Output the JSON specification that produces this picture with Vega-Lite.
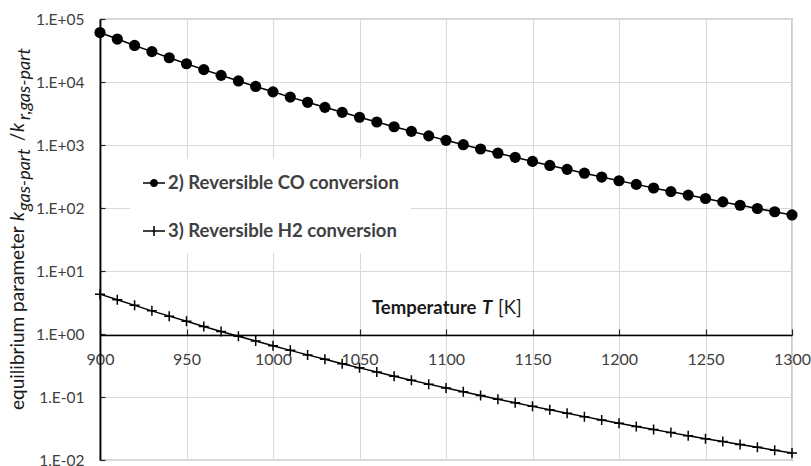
{
  "$schema": "https://vega.github.io/schema/vega-lite/v6.json",
  "width": 692,
  "height": 441,
  "autosize": "none",
  "padding": {"left": 100, "top": 19, "right": 19, "bottom": 6},
  "background": "white",
  "config": {
    "font": "Lato",
    "view": {"stroke": "#595959", "strokeWidth": 1.2},
    "axis": {
      "gridColor": "#d9d9d9",
      "gridWidth": 1,
      "labelFont": "Lato",
      "labelFontSize": 16,
      "labelColor": "#404040",
      "tickColor": "#262626",
      "domainColor": "#000000"
    }
  },
  "datasets": {
    "curves": [
      {"series": "2) Reversible CO conversion", "T": 900, "K": 60950},
      {"series": "2) Reversible CO conversion", "T": 910, "K": 48030},
      {"series": "2) Reversible CO conversion", "T": 920, "K": 38050},
      {"series": "2) Reversible CO conversion", "T": 930, "K": 30300},
      {"series": "2) Reversible CO conversion", "T": 940, "K": 24240},
      {"series": "2) Reversible CO conversion", "T": 950, "K": 19490},
      {"series": "2) Reversible CO conversion", "T": 960, "K": 15730},
      {"series": "2) Reversible CO conversion", "T": 970, "K": 12760},
      {"series": "2) Reversible CO conversion", "T": 980, "K": 10390},
      {"series": "2) Reversible CO conversion", "T": 990, "K": 8500},
      {"series": "2) Reversible CO conversion", "T": 1000, "K": 6980},
      {"series": "2) Reversible CO conversion", "T": 1010, "K": 5760},
      {"series": "2) Reversible CO conversion", "T": 1020, "K": 4760},
      {"series": "2) Reversible CO conversion", "T": 1030, "K": 3960},
      {"series": "2) Reversible CO conversion", "T": 1040, "K": 3300},
      {"series": "2) Reversible CO conversion", "T": 1050, "K": 2760},
      {"series": "2) Reversible CO conversion", "T": 1060, "K": 2320},
      {"series": "2) Reversible CO conversion", "T": 1070, "K": 1950},
      {"series": "2) Reversible CO conversion", "T": 1080, "K": 1647},
      {"series": "2) Reversible CO conversion", "T": 1090, "K": 1396},
      {"series": "2) Reversible CO conversion", "T": 1100, "K": 1186},
      {"series": "2) Reversible CO conversion", "T": 1110, "K": 1011},
      {"series": "2) Reversible CO conversion", "T": 1120, "K": 864},
      {"series": "2) Reversible CO conversion", "T": 1130, "K": 741},
      {"series": "2) Reversible CO conversion", "T": 1140, "K": 637},
      {"series": "2) Reversible CO conversion", "T": 1150, "K": 549},
      {"series": "2) Reversible CO conversion", "T": 1160, "K": 474},
      {"series": "2) Reversible CO conversion", "T": 1170, "K": 411},
      {"series": "2) Reversible CO conversion", "T": 1180, "K": 357},
      {"series": "2) Reversible CO conversion", "T": 1190, "K": 310},
      {"series": "2) Reversible CO conversion", "T": 1200, "K": 271},
      {"series": "2) Reversible CO conversion", "T": 1210, "K": 237},
      {"series": "2) Reversible CO conversion", "T": 1220, "K": 207.5},
      {"series": "2) Reversible CO conversion", "T": 1230, "K": 182.2},
      {"series": "2) Reversible CO conversion", "T": 1240, "K": 160.3},
      {"series": "2) Reversible CO conversion", "T": 1250, "K": 141.4},
      {"series": "2) Reversible CO conversion", "T": 1260, "K": 124.9},
      {"series": "2) Reversible CO conversion", "T": 1270, "K": 110.6},
      {"series": "2) Reversible CO conversion", "T": 1280, "K": 98.1},
      {"series": "2) Reversible CO conversion", "T": 1290, "K": 87.2},
      {"series": "2) Reversible CO conversion", "T": 1300, "K": 77.6},
      {"series": "3) Reversible H2 conversion", "T": 900, "K": 4.29},
      {"series": "3) Reversible H2 conversion", "T": 910, "K": 3.49},
      {"series": "3) Reversible H2 conversion", "T": 920, "K": 2.85},
      {"series": "3) Reversible H2 conversion", "T": 930, "K": 2.33},
      {"series": "3) Reversible H2 conversion", "T": 940, "K": 1.92},
      {"series": "3) Reversible H2 conversion", "T": 950, "K": 1.589},
      {"series": "3) Reversible H2 conversion", "T": 960, "K": 1.319},
      {"series": "3) Reversible H2 conversion", "T": 970, "K": 1.099},
      {"series": "3) Reversible H2 conversion", "T": 980, "K": 0.919},
      {"series": "3) Reversible H2 conversion", "T": 990, "K": 0.772},
      {"series": "3) Reversible H2 conversion", "T": 1000, "K": 0.65},
      {"series": "3) Reversible H2 conversion", "T": 1010, "K": 0.55},
      {"series": "3) Reversible H2 conversion", "T": 1020, "K": 0.466},
      {"series": "3) Reversible H2 conversion", "T": 1030, "K": 0.397},
      {"series": "3) Reversible H2 conversion", "T": 1040, "K": 0.338},
      {"series": "3) Reversible H2 conversion", "T": 1050, "K": 0.29},
      {"series": "3) Reversible H2 conversion", "T": 1060, "K": 0.2486},
      {"series": "3) Reversible H2 conversion", "T": 1070, "K": 0.2141},
      {"series": "3) Reversible H2 conversion", "T": 1080, "K": 0.1848},
      {"series": "3) Reversible H2 conversion", "T": 1090, "K": 0.16},
      {"series": "3) Reversible H2 conversion", "T": 1100, "K": 0.1389},
      {"series": "3) Reversible H2 conversion", "T": 1110, "K": 0.1208},
      {"series": "3) Reversible H2 conversion", "T": 1120, "K": 0.1054},
      {"series": "3) Reversible H2 conversion", "T": 1130, "K": 0.0922},
      {"series": "3) Reversible H2 conversion", "T": 1140, "K": 0.0808},
      {"series": "3) Reversible H2 conversion", "T": 1150, "K": 0.071},
      {"series": "3) Reversible H2 conversion", "T": 1160, "K": 0.0625},
      {"series": "3) Reversible H2 conversion", "T": 1170, "K": 0.0552},
      {"series": "3) Reversible H2 conversion", "T": 1180, "K": 0.0488},
      {"series": "3) Reversible H2 conversion", "T": 1190, "K": 0.0432},
      {"series": "3) Reversible H2 conversion", "T": 1200, "K": 0.0384},
      {"series": "3) Reversible H2 conversion", "T": 1210, "K": 0.0341},
      {"series": "3) Reversible H2 conversion", "T": 1220, "K": 0.0304},
      {"series": "3) Reversible H2 conversion", "T": 1230, "K": 0.0272},
      {"series": "3) Reversible H2 conversion", "T": 1240, "K": 0.0243},
      {"series": "3) Reversible H2 conversion", "T": 1250, "K": 0.0218},
      {"series": "3) Reversible H2 conversion", "T": 1260, "K": 0.0196},
      {"series": "3) Reversible H2 conversion", "T": 1270, "K": 0.0176},
      {"series": "3) Reversible H2 conversion", "T": 1280, "K": 0.0159},
      {"series": "3) Reversible H2 conversion", "T": 1290, "K": 0.0143},
      {"series": "3) Reversible H2 conversion", "T": 1300, "K": 0.0129}
    ]
  },
  "layer": [
    {
      "data": {"name": "curves"},
      "mark": {"type": "line", "color": "black", "strokeWidth": 1.5},
      "encoding": {
        "x": {"field": "T", "type": "quantitative", "scale": {"domain": [900, 1300], "nice": false, "zero": false},
          "axis": {"title": null, "values": [900, 950, 1000, 1050, 1100, 1150, 1200, 1250, 1300], "format": "d", "offset": -125, "tickSize": -6, "tickWidth": 1.2, "labelPadding": 22, "labelFlush": false, "labelOverlap": false, "domainWidth": 1.3, "grid": true}},
        "y": {"field": "K", "type": "quantitative", "scale": {"type": "log", "domain": [0.01, 100000], "nice": false},
          "axis": {"title": null, "values": [0.01, 0.1, 1, 10, 100, 1000, 10000, 100000], "labelExpr": "'1.E' + (datum.value >= 1 ? '+' : '-') + (abs(round(log(datum.value) / LN10)) < 10 ? '0' : '') + abs(round(log(datum.value) / LN10))", "labelFontSize": 15.5, "tickSize": -5, "tickWidth": 1.2, "labelPadding": 21, "domainWidth": 1.8, "grid": true}},
        "detail": {"field": "series", "type": "nominal"}
      }
    },
    {
      "data": {"name": "curves"},
      "transform": [{"filter": "datum.series == '2) Reversible CO conversion'"}],
      "mark": {"type": "point", "shape": "circle", "filled": true, "color": "black", "size": 125, "opacity": 1},
      "encoding": {
        "x": {"field": "T", "type": "quantitative",
          "axis": {"title": null, "values": [900, 950, 1000, 1050, 1100, 1150, 1200, 1250, 1300], "format": "d", "offset": -125, "tickSize": -6, "tickWidth": 1.2, "labelPadding": 22, "labelFlush": false, "labelOverlap": false, "domainWidth": 1.3, "grid": true}},
        "y": {"field": "K", "type": "quantitative",
          "axis": {"title": null, "values": [0.01, 0.1, 1, 10, 100, 1000, 10000, 100000], "labelExpr": "'1.E' + (datum.value >= 1 ? '+' : '-') + (abs(round(log(datum.value) / LN10)) < 10 ? '0' : '') + abs(round(log(datum.value) / LN10))", "labelFontSize": 15.5, "tickSize": -5, "tickWidth": 1.2, "labelPadding": 21, "domainWidth": 1.8, "grid": true}}
      }
    },
    {
      "data": {"name": "curves"},
      "transform": [{"filter": "datum.series == '3) Reversible H2 conversion'"}],
      "mark": {"type": "point", "shape": "M-1,0H1M0,-1V1", "filled": false, "color": "black", "size": 100, "strokeWidth": 1.5, "opacity": 1},
      "encoding": {
        "x": {"field": "T", "type": "quantitative",
          "axis": {"title": null, "values": [900, 950, 1000, 1050, 1100, 1150, 1200, 1250, 1300], "format": "d", "offset": -125, "tickSize": -6, "tickWidth": 1.2, "labelPadding": 22, "labelFlush": false, "labelOverlap": false, "domainWidth": 1.3, "grid": true}},
        "y": {"field": "K", "type": "quantitative",
          "axis": {"title": null, "values": [0.01, 0.1, 1, 10, 100, 1000, 10000, 100000], "labelExpr": "'1.E' + (datum.value >= 1 ? '+' : '-') + (abs(round(log(datum.value) / LN10)) < 10 ? '0' : '') + abs(round(log(datum.value) / LN10))", "labelFontSize": 15.5, "tickSize": -5, "tickWidth": 1.2, "labelPadding": 21, "domainWidth": 1.8, "grid": true}}
      }
    },
    {
      "data": {"name": "curves"},
      "transform": [{"filter": "datum.T < 0"}],
      "mark": {"type": "point", "filled": true, "color": "black", "opacity": 1},
      "encoding": {
        "x": {"field": "T", "type": "quantitative",
          "axis": {"title": null, "values": [900, 950, 1000, 1050, 1100, 1150, 1200, 1250, 1300], "format": "d", "offset": -125, "tickSize": -6, "tickWidth": 1.2, "labelPadding": 22, "labelFlush": false, "labelOverlap": false, "domainWidth": 1.3, "grid": true}},
        "y": {"field": "K", "type": "quantitative",
          "axis": {"title": null, "values": [0.01, 0.1, 1, 10, 100, 1000, 10000, 100000], "labelExpr": "'1.E' + (datum.value >= 1 ? '+' : '-') + (abs(round(log(datum.value) / LN10)) < 10 ? '0' : '') + abs(round(log(datum.value) / LN10))", "labelFontSize": 15.5, "tickSize": -5, "tickWidth": 1.2, "labelPadding": 21, "domainWidth": 1.8, "grid": true}},
        "shape": {
          "field": "series",
          "type": "nominal",
          "scale": {
            "domain": ["2) Reversible CO conversion", "3) Reversible H2 conversion"],
            "range": [
              "M-1,-0.07H1V0.07H-1ZM-0.37,0A0.37,0.37 0 1,1 0.37,0A0.37,0.37 0 1,1 -0.37,0Z",
              "M-1,-0.07H1V0.07H-1ZM-0.07,-0.45H0.07V0.45H-0.07Z"
            ]
          },
          "legend": {
            "title": null,
            "orient": "none",
            "legendX": 30,
            "legendY": 140,
            "fillColor": "white",
            "padding": 12,
            "symbolSize": 484,
            "rowPadding": 26,
            "labelOffset": 2,
            "labelFont": "Lato",
            "labelFontSize": 18.5,
            "labelFontWeight": "bold",
            "labelColor": "#404040",
            "labelLimit": 400,
            "symbolOpacity": 1,
            "symbolFillColor": "black"
          }
        }
      }
    },
    {
      "data": {"values": [{}]},
      "mark": {"type": "text", "text": "Temperature", "font": "Lato", "fontSize": 18.5, "fontWeight": "bold", "align": "left", "baseline": "middle", "color": "#1a1a1a"},
      "encoding": {"x": {"datum": 1057.2, "axis": {"title": null, "values": [900, 950, 1000, 1050, 1100, 1150, 1200, 1250, 1300], "format": "d", "offset": -125, "tickSize": -6, "tickWidth": 1.2, "labelPadding": 22, "labelFlush": false, "labelOverlap": false, "domainWidth": 1.3, "grid": true}},
        "y": {"datum": 2.59, "axis": {"title": null, "values": [0.01, 0.1, 1, 10, 100, 1000, 10000, 100000], "labelExpr": "'1.E' + (datum.value >= 1 ? '+' : '-') + (abs(round(log(datum.value) / LN10)) < 10 ? '0' : '') + abs(round(log(datum.value) / LN10))", "labelFontSize": 15.5, "tickSize": -5, "tickWidth": 1.2, "labelPadding": 21, "domainWidth": 1.8, "grid": true}}}
    },
    {
      "data": {"values": [{}]},
      "mark": {"type": "text", "text": "T", "font": "Lato", "fontSize": 18.5, "fontWeight": "bold", "fontStyle": "italic", "align": "left", "baseline": "middle", "color": "#1a1a1a"},
      "encoding": {"x": {"datum": 1120.8, "axis": {"title": null, "values": [900, 950, 1000, 1050, 1100, 1150, 1200, 1250, 1300], "format": "d", "offset": -125, "tickSize": -6, "tickWidth": 1.2, "labelPadding": 22, "labelFlush": false, "labelOverlap": false, "domainWidth": 1.3, "grid": true}},
        "y": {"datum": 2.59, "axis": {"title": null, "values": [0.01, 0.1, 1, 10, 100, 1000, 10000, 100000], "labelExpr": "'1.E' + (datum.value >= 1 ? '+' : '-') + (abs(round(log(datum.value) / LN10)) < 10 ? '0' : '') + abs(round(log(datum.value) / LN10))", "labelFontSize": 15.5, "tickSize": -5, "tickWidth": 1.2, "labelPadding": 21, "domainWidth": 1.8, "grid": true}}}
    },
    {
      "data": {"values": [{}]},
      "mark": {"type": "text", "text": "[K]", "font": "Lato", "fontSize": 18.5, "align": "left", "baseline": "middle", "color": "#1a1a1a"},
      "encoding": {"x": {"datum": 1130.1, "axis": {"title": null, "values": [900, 950, 1000, 1050, 1100, 1150, 1200, 1250, 1300], "format": "d", "offset": -125, "tickSize": -6, "tickWidth": 1.2, "labelPadding": 22, "labelFlush": false, "labelOverlap": false, "domainWidth": 1.3, "grid": true}},
        "y": {"datum": 2.59, "axis": {"title": null, "values": [0.01, 0.1, 1, 10, 100, 1000, 10000, 100000], "labelExpr": "'1.E' + (datum.value >= 1 ? '+' : '-') + (abs(round(log(datum.value) / LN10)) < 10 ? '0' : '') + abs(round(log(datum.value) / LN10))", "labelFontSize": 15.5, "tickSize": -5, "tickWidth": 1.2, "labelPadding": 21, "domainWidth": 1.8, "grid": true}}}
    },
    {
      "data": {"values": [{}]},
      "mark": {"type": "text", "text": "equilibrium parameter", "font": "Lato", "fontSize": 19, "angle": 270, "align": "left", "baseline": "middle", "color": "#1a1a1a"},
      "encoding": {"x": {"datum": 852.6, "axis": {"title": null, "values": [900, 950, 1000, 1050, 1100, 1150, 1200, 1250, 1300], "format": "d", "offset": -125, "tickSize": -6, "tickWidth": 1.2, "labelPadding": 22, "labelFlush": false, "labelOverlap": false, "domainWidth": 1.3, "grid": true}},
        "y": {"datum": 0.0622, "axis": {"title": null, "values": [0.01, 0.1, 1, 10, 100, 1000, 10000, 100000], "labelExpr": "'1.E' + (datum.value >= 1 ? '+' : '-') + (abs(round(log(datum.value) / LN10)) < 10 ? '0' : '') + abs(round(log(datum.value) / LN10))", "labelFontSize": 15.5, "tickSize": -5, "tickWidth": 1.2, "labelPadding": 21, "domainWidth": 1.8, "grid": true}}}
    },
    {
      "data": {"values": [{}]},
      "mark": {"type": "text", "text": "k", "font": "Lato", "fontSize": 19, "fontStyle": "italic", "angle": 270, "align": "left", "baseline": "middle", "color": "#1a1a1a"},
      "encoding": {"x": {"datum": 852.6, "axis": {"title": null, "values": [900, 950, 1000, 1050, 1100, 1150, 1200, 1250, 1300], "format": "d", "offset": -125, "tickSize": -6, "tickWidth": 1.2, "labelPadding": 22, "labelFlush": false, "labelOverlap": false, "domainWidth": 1.3, "grid": true}},
        "y": {"datum": 62.2, "axis": {"title": null, "values": [0.01, 0.1, 1, 10, 100, 1000, 10000, 100000], "labelExpr": "'1.E' + (datum.value >= 1 ? '+' : '-') + (abs(round(log(datum.value) / LN10)) < 10 ? '0' : '') + abs(round(log(datum.value) / LN10))", "labelFontSize": 15.5, "tickSize": -5, "tickWidth": 1.2, "labelPadding": 21, "domainWidth": 1.8, "grid": true}}}
    },
    {
      "data": {"values": [{}]},
      "mark": {"type": "text", "text": "gas-part", "font": "Lato", "fontSize": 18, "fontStyle": "italic", "angle": 270, "align": "left", "baseline": "middle", "color": "#1a1a1a"},
      "encoding": {"x": {"datum": 856.6, "axis": {"title": null, "values": [900, 950, 1000, 1050, 1100, 1150, 1200, 1250, 1300], "format": "d", "offset": -125, "tickSize": -6, "tickWidth": 1.2, "labelPadding": 22, "labelFlush": false, "labelOverlap": false, "domainWidth": 1.3, "grid": true}},
        "y": {"datum": 89.6, "axis": {"title": null, "values": [0.01, 0.1, 1, 10, 100, 1000, 10000, 100000], "labelExpr": "'1.E' + (datum.value >= 1 ? '+' : '-') + (abs(round(log(datum.value) / LN10)) < 10 ? '0' : '') + abs(round(log(datum.value) / LN10))", "labelFontSize": 15.5, "tickSize": -5, "tickWidth": 1.2, "labelPadding": 21, "domainWidth": 1.8, "grid": true}}}
    },
    {
      "data": {"values": [{}]},
      "mark": {"type": "text", "text": "/", "font": "Lato", "fontSize": 19, "angle": 270, "align": "left", "baseline": "middle", "color": "#1a1a1a"},
      "encoding": {"x": {"datum": 852.6, "axis": {"title": null, "values": [900, 950, 1000, 1050, 1100, 1150, 1200, 1250, 1300], "format": "d", "offset": -125, "tickSize": -6, "tickWidth": 1.2, "labelPadding": 22, "labelFlush": false, "labelOverlap": false, "domainWidth": 1.3, "grid": true}},
        "y": {"datum": 1150, "axis": {"title": null, "values": [0.01, 0.1, 1, 10, 100, 1000, 10000, 100000], "labelExpr": "'1.E' + (datum.value >= 1 ? '+' : '-') + (abs(round(log(datum.value) / LN10)) < 10 ? '0' : '') + abs(round(log(datum.value) / LN10))", "labelFontSize": 15.5, "tickSize": -5, "tickWidth": 1.2, "labelPadding": 21, "domainWidth": 1.8, "grid": true}}}
    },
    {
      "data": {"values": [{}]},
      "mark": {"type": "text", "text": "k", "font": "Lato", "fontSize": 19, "fontStyle": "italic", "angle": 270, "align": "left", "baseline": "middle", "color": "#1a1a1a"},
      "encoding": {"x": {"datum": 852.6, "axis": {"title": null, "values": [900, 950, 1000, 1050, 1100, 1150, 1200, 1250, 1300], "format": "d", "offset": -125, "tickSize": -6, "tickWidth": 1.2, "labelPadding": 22, "labelFlush": false, "labelOverlap": false, "domainWidth": 1.3, "grid": true}},
        "y": {"datum": 1607, "axis": {"title": null, "values": [0.01, 0.1, 1, 10, 100, 1000, 10000, 100000], "labelExpr": "'1.E' + (datum.value >= 1 ? '+' : '-') + (abs(round(log(datum.value) / LN10)) < 10 ? '0' : '') + abs(round(log(datum.value) / LN10))", "labelFontSize": 15.5, "tickSize": -5, "tickWidth": 1.2, "labelPadding": 21, "domainWidth": 1.8, "grid": true}}}
    },
    {
      "data": {"values": [{}]},
      "mark": {"type": "text", "text": "r,gas-part", "font": "Lato", "fontSize": 18, "fontStyle": "italic", "angle": 270, "align": "left", "baseline": "middle", "color": "#1a1a1a"},
      "encoding": {"x": {"datum": 856.6, "axis": {"title": null, "values": [900, 950, 1000, 1050, 1100, 1150, 1200, 1250, 1300], "format": "d", "offset": -125, "tickSize": -6, "tickWidth": 1.2, "labelPadding": 22, "labelFlush": false, "labelOverlap": false, "domainWidth": 1.3, "grid": true}},
        "y": {"datum": 2494, "axis": {"title": null, "values": [0.01, 0.1, 1, 10, 100, 1000, 10000, 100000], "labelExpr": "'1.E' + (datum.value >= 1 ? '+' : '-') + (abs(round(log(datum.value) / LN10)) < 10 ? '0' : '') + abs(round(log(datum.value) / LN10))", "labelFontSize": 15.5, "tickSize": -5, "tickWidth": 1.2, "labelPadding": 21, "domainWidth": 1.8, "grid": true}}}
    }
  ]
}
